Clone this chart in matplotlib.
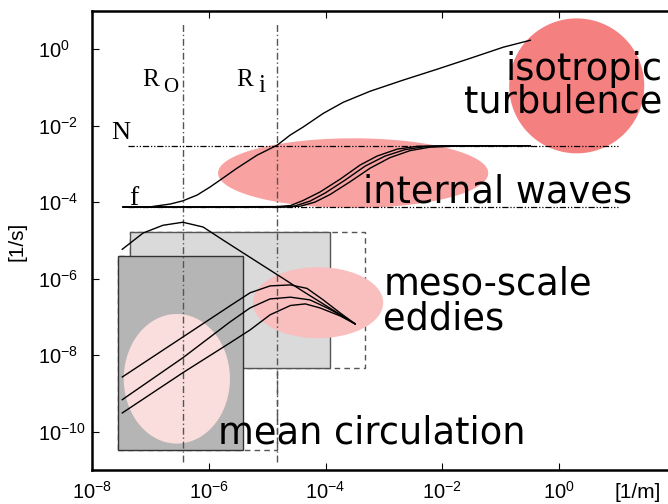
import numpy as np
import matplotlib
matplotlib.use('Agg')
import matplotlib.pyplot as plt
from matplotlib.patches import Rectangle
from matplotlib.ticker import NullLocator

plt.rcParams['font.family'] = ['Liberation Sans', 'DejaVu Sans']
plt.rcParams['xtick.labelsize'] = 14.5
plt.rcParams['ytick.labelsize'] = 14.5
plt.rcParams['xtick.major.pad'] = 8

# characteristic scales (k in 1/m, omega in 1/s)
R_o = 3.6e-7
R_i = 1.48e-5
N = 3.0e-3
f = 7.5e-5
ref_k = [4.1e-8, 10.0]
ref_w = [1.65e-11, 5.1]

# upper dispersion curve
disp_k = [3.4e-8, 1.0e-7, 2.2e-7, 3.6e-7, 6.3e-7, 1.05e-6, 1.56e-6, 3.05e-6, 6.7e-6, 1.48e-5,
          2.47e-5, 4.1e-5, 9.1e-5, 2.0e-4, 5.8e-4, 2.1e-3, 8.1e-3, 3.0e-2, 0.11, 0.32]
disp_w = [7.5e-5, 7.6e-5, 9.0e-5, 1.09e-4, 1.54e-4, 2.5e-4, 3.8e-4, 7.8e-4, 1.7e-3, 3.1e-3,
          5.7e-3, 9.2e-3, 2.1e-2, 4.1e-2, 8.0e-2, 0.155, 0.30, 0.58, 1.13, 1.72]

# internal wave branches (f -> N)
iw1_k = [3.4e-8, 1.48e-5, 2.5e-5, 4.1e-5, 8.0e-5, 1.77e-4, 3.9e-4, 7.6e-4, 1.68e-3, 3.7e-3, 9.1e-3, 0.32]
iw1_w = [7.5e-5, 7.7e-5, 8.2e-5, 1.11e-4, 1.85e-4, 4.0e-4, 9.4e-4, 1.61e-3, 2.45e-3, 2.90e-3, 3.0e-3, 3.0e-3]
iw2_k = [3.4e-8, 1.66e-5, 3.0e-5, 5.4e-5, 9.8e-5, 2.16e-4, 4.75e-4, 1.04e-3, 2.3e-3, 5.1e-3, 1.36e-2, 0.32]
iw2_w = [7.5e-5, 7.5e-5, 8.0e-5, 1.07e-4, 1.74e-4, 3.8e-4, 8.8e-4, 1.61e-3, 2.38e-3, 2.84e-3, 2.97e-3, 3.0e-3]
iw3_k = [3.4e-8, 2.0e-5, 3.7e-5, 6.6e-5, 1.19e-4, 2.6e-4, 5.8e-4, 1.27e-3, 2.8e-3, 6.2e-3, 1.65e-2, 0.32]
iw3_w = [7.5e-5, 7.5e-5, 7.9e-5, 1.01e-4, 1.59e-4, 3.4e-4, 7.8e-4, 1.47e-3, 2.24e-3, 2.76e-3, 2.93e-3, 3.0e-3]

# eddy / mean flow curves
hump_k = [3.3e-8, 7.5e-8, 1.64e-7, 3.6e-7, 8.0e-7, 1.75e-6, 3.9e-6, 8.5e-6, 1.87e-5, 4.1e-5, 9.1e-5, 3.2e-4]
hump_w = [5.9e-6, 1.57e-5, 2.5e-5, 3.0e-5, 2.25e-5, 1.03e-5, 4.7e-6, 2.2e-6, 1.02e-6, 4.7e-7, 2.2e-7, 6.6e-8]
ed1_k = [3.3e-8, 3.6e-7, 2.3e-6, 5.1e-6, 1.12e-5, 2.5e-5, 4.8e-5, 9.1e-5, 1.77e-4, 3.2e-4]
ed1_w = [2.7e-9, 3.0e-8, 1.95e-7, 4.3e-7, 6.5e-7, 6.9e-7, 5.6e-7, 2.8e-7, 1.28e-7, 6.6e-8]
ed2_k = [3.3e-8, 3.6e-7, 2.3e-6, 5.1e-6, 1.12e-5, 2.5e-5, 5.4e-5, 1.06e-4, 1.92e-4, 3.2e-4]
ed2_w = [6.9e-10, 8.6e-9, 7.4e-8, 1.73e-7, 2.97e-7, 3.3e-7, 2.8e-7, 1.73e-7, 1.07e-7, 6.6e-8]
ed3_k = [3.3e-8, 3.6e-7, 2.3e-6, 5.1e-6, 1.12e-5, 2.5e-5, 4.5e-5, 8.0e-5, 1.77e-4, 3.2e-4]
ed3_w = [3.1e-10, 3.5e-9, 2.1e-8, 4.6e-8, 1.14e-7, 2.0e-7, 2.2e-7, 1.73e-7, 1.07e-7, 6.6e-8]

# boxes: (k range, w range)
light_k, light_w = [4.5e-8, 1.19e-4], [4.7e-9, 1.67e-5]
light_dash_k = [4.5e-8, 4.75e-4]
dark_k, dark_w = [2.8e-8, 3.9e-6], [3.4e-11, 3.9e-6]
dark_dash_k = [2.8e-8, 1.48e-5]

# regime ellipses: (k range, w range)
iso_k, iso_w = [0.139, 28.6], [1.9e-3, 6.4]
waves_k, waves_w = [1.44e-6, 6.1e-2], [7.1e-5, 4.7e-3]
meso_k, meso_w = [5.7e-6, 9.7e-4], [2.8e-8, 2.0e-6]
mean_k, mean_w = [3.5e-8, 2.3e-6], [4.9e-11, 1.2e-7]

x_ticks = [1e-8, 1e-6, 1e-4, 1e-2, 1e0]
y_ticks = [1e-10, 1e-8, 1e-6, 1e-4, 1e-2, 1e0]


def log_ellipse(ax, k_rng, w_rng, color):
    t = np.linspace(0, 2 * np.pi, 200)
    lk, lw = np.log10(k_rng), np.log10(w_rng)
    cx, rx = lk.mean(), (lk[1] - lk[0]) / 2
    cy, ry = lw.mean(), (lw[1] - lw[0]) / 2
    ax.fill(10 ** (cx + rx * np.cos(t)), 10 ** (cy + ry * np.sin(t)),
            color=color, lw=0, zorder=2)


def box(ax, k_rng, w_rng, **kw):
    ax.add_patch(Rectangle((k_rng[0], w_rng[0]), k_rng[1] - k_rng[0], w_rng[1] - w_rng[0], **kw))


def exp_label(v):
    return r'$\mathregular{10^{%d}}$' % round(np.log10(v))


fig = plt.figure(figsize=(6.68, 5.04), dpi=100)
ax = fig.add_axes([92 / 668, 34 / 504, 584 / 668, 459 / 504])
ax.set_xscale('log')
ax.set_yscale('log')

# boxes
box(ax, light_dash_k, light_w, fill=False, ec='#555555', lw=1.0, ls=(0, (4, 3)), zorder=1)
box(ax, dark_dash_k, dark_w, fill=False, ec='#555555', lw=1.0, ls=(0, (4, 3)), zorder=1)
box(ax, light_k, light_w, fc='#dadada', ec='#555555', lw=1.0, zorder=1.1)
box(ax, dark_k, dark_w, fc='#b5b5b5', ec='#333333', lw=1.0, zorder=1.2)

# regimes
log_ellipse(ax, iso_k, iso_w, '#f58080')
log_ellipse(ax, waves_k, waves_w, '#f8a2a2')
log_ellipse(ax, meso_k, meso_w, '#f9bebe')
log_ellipse(ax, mean_k, mean_w, '#fadddd')

# reference lines
ax.vlines([R_o, R_i], ref_w[0], ref_w[1], colors='#555555', lw=1.0,
          linestyles=[(0, (5, 2, 1, 2))], zorder=3)
ax.hlines([N, f], ref_k[0], ref_k[1], colors='black', lw=0.9,
          linestyles=[(0, (5, 1.5, 1, 1.5, 1, 1.5))], zorder=3)

# curves
for k, w in [(disp_k, disp_w), (iw1_k, iw1_w), (iw2_k, iw2_w), (iw3_k, iw3_w),
             (hump_k, hump_w), (ed1_k, ed1_w), (ed2_k, ed2_w), (ed3_k, ed3_w)]:
    ax.plot(k, w, color='black', lw=1.0, zorder=4)

# serif symbols
serif = 'Liberation Serif'
ax.text(7.3e-8, 0.108, 'R', family=serif, fontsize=18, zorder=5)
ax.text(1.64e-7, 0.0754, 'O', family=serif, fontsize=15, zorder=5)
ax.text(3.0e-6, 0.108, 'R', family=serif, fontsize=18, zorder=5)
ax.text(7.0e-6, 0.0754, 'i', family=serif, fontsize=18, zorder=5)
ax.text(2.1e-8, 4.5e-3, 'N', family=serif, fontsize=19, zorder=5)
ax.text(4.3e-8, 8.5e-5, 'f', family=serif, fontsize=20, zorder=5)

# regime labels
big = dict(family='DejaVu Sans', fontsize=26.5, zorder=5)
ax.text(58, 0.155, 'isotropic', ha='right', **big)
ax.text(58, 0.0226, 'turbulence', ha='right', **big)
ax.text(4.4e-4, 1.01e-4, 'internal waves', **big)
ax.text(9.7e-4, 3.8e-7, 'meso-scale', **big)
ax.text(9.7e-4, 4.6e-8, 'eddies', **big)
ax.text(1.44e-6, 4.9e-11, 'mean circulation', **big)

# axes styling
for side in ['left', 'bottom', 'top', 'right']:
    ax.spines[side].set_linewidth(1.8)
ax.set_xticks(x_ticks, labels=[exp_label(v) for v in x_ticks])
ax.set_yticks(y_ticks, labels=[])
ax.xaxis.set_minor_locator(NullLocator())
ax.yaxis.set_minor_locator(NullLocator())
ax.set_xlim(1e-8, 1e2)
ax.set_ylim(1e-11, 1e1)
ax.tick_params(which='major', direction='in', length=5, width=0.8, top=True, right=True)

# y tick labels are left-aligned in the original
for v in y_ticks:
    ax.text(-54 / 584, v, exp_label(v), transform=ax.get_yaxis_transform(),
            ha='left', va='center_baseline', fontsize=14.5)

ax.text(21.7, -0.05, '[1/m]', transform=ax.get_xaxis_transform(), ha='center', va='center',
        fontsize=15)
fig.text(17.5 / 668, 1 - 241 / 504, '[1/s]', rotation=90, ha='center', va='center',
         fontsize=15)

fig.savefig('out.png', dpi=100)
